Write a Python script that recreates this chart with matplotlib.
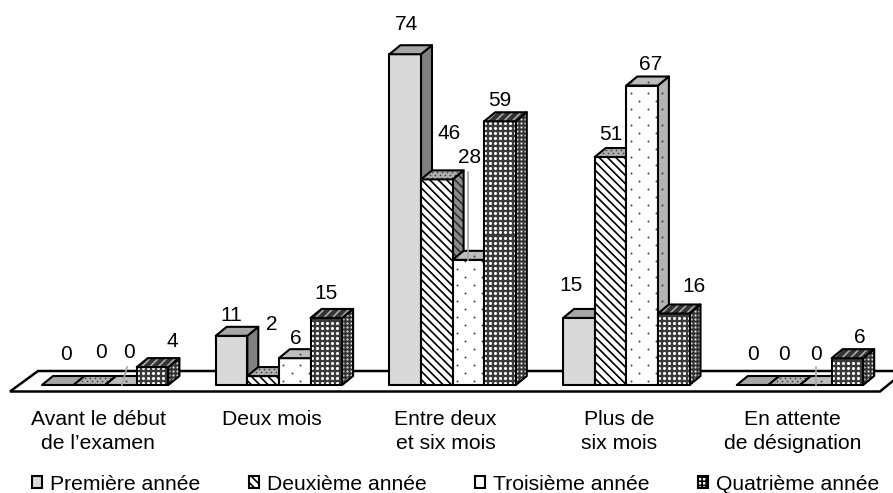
import matplotlib
matplotlib.use('Agg')
import matplotlib.pyplot as plt
import numpy as np
from matplotlib.patches import Patch, Polygon

plt.rcParams['font.family'] = ['Liberation Sans', 'DejaVu Sans']
plt.rcParams['hatch.linewidth'] = 1.2

categories = ['Avant le début\nde l’examen', 'Deux mois', 'Entre deux\net six mois',
              'Plus de\nsix mois', 'En attente\nde désignation']
series_names = ['Première année', 'Deuxième année', 'Troisième année', 'Quatrième année']
premiere = [0, 11, 74, 15, 0]
deuxieme = [0, 2, 46, 51, 0]
troisieme = [0, 6, 28, 67, 0]
quatrieme = [4, 15, 59, 16, 6]
series = [premiere, deuxieme, troisieme, quatrieme]

# label offsets from the top centre of each bar, in pixels
label_dx = [[8, 12, 8, 20], [0, 9, 1, 0], [1, 12, 1, 0], [-8, 0, 9, 20], [0, 0, 0, 12]]
label_dy = [[31, 33, 33, 26], [20, 52, 20, 24], [30, 46, 102, 21], [32, 23, 21, 27], [31, 31, 31, 21]]

# dot textures: spacing x, spacing y, staggered, size, colour
SPARSE = (17, 8, True, 2.0, '#404040')
GRID = (5, 5, False, 5.0, 'white')
GRID_SIDE = (4, 4, False, 2.5, '#dddddd')
FINE = (5, 3, True, 1.5, '#404040')

# front, top, side: face, hatch colour, hatch, dots
styles = [
    [('#d9d9d9', None, None, None), ('#a6a6a6', None, None, None), ('#808080', None, None, None)],
    [('white', 'black', '\\\\\\\\', None), ('#b0b0b0', None, None, FINE), ('#8c8c8c', '#303030', '\\\\\\\\', None)],
    [('white', None, None, SPARSE), ('#bdbdbd', None, None, SPARSE), ('#b4b4b4', None, None, SPARSE)],
    [('#3a3a3a', None, None, GRID), ('#333333', '#aaaaaa', '////', None), ('#333333', None, None, GRID_SIDE)],
]

PX_X = 173.7            # pixels per category
PX_Y = 4.47             # pixels per value unit
W = 31.6 / PX_X         # bar width
DX = 11 / PX_X          # depth of the 3D effect
DY = 9 / PX_Y
LEFT = -63 / PX_X       # left of first bar from category position

fig = plt.figure(figsize=(8.93, 4.93), dpi=100)
ax = fig.add_axes([0, 0, 1, 1])
ax.set_xlim(-105 / PX_X, (893 - 105) / PX_X)
ax.set_ylim(-108 / PX_Y, 385 / PX_Y)
ax.axis('off')


def texture(pts, dots, z, clip):
    sx, sy, stagger, size, col = dots
    xs = np.array([p[0] for p in pts]) * PX_X
    ys = np.array([p[1] for p in pts]) * PX_Y
    px, py = [], []
    for r, y in enumerate(np.arange(ys.min() + sy / 2, ys.max(), sy)):
        shift = sx / 2 if stagger and r % 2 else 0
        for x in np.arange(xs.min() + sx / 4 + shift, xs.max(), sx):
            px.append(x / PX_X)
            py.append(y / PX_Y)
    if px:
        dots_art = ax.scatter(px, py, s=size, c=col, marker='o', linewidths=0, zorder=z)
        dots_art.set_clip_path(clip)


def face(pts, style, z):
    col, hcol, hatch, dots = style
    base = ax.add_patch(Polygon(pts, closed=True, facecolor=col, edgecolor='none', zorder=z))
    if hatch:
        ax.add_patch(Polygon(pts, closed=True, facecolor='none', edgecolor=hcol,
                             hatch=hatch, linewidth=0, zorder=z))
    if dots:
        texture(pts, dots, z, base)
    ax.add_patch(Polygon(pts, closed=True, facecolor='none', edgecolor='black',
                         linewidth=1.5, joinstyle='round', zorder=z))


def bar3d(x, h, st, z):
    if h > 0:
        face([(x + W, 0), (x + W + DX, DY), (x + W + DX, h + DY), (x + W, h)], st[2], z)
        face([(x, 0), (x + W, 0), (x + W, h), (x, h)], st[0], z)
    face([(x, h), (x + W, h), (x + W + DX, h + DY), (x + DX, h + DY)], st[1], z)


# floor
floor_x = [-95 / PX_X, -67 / PX_X, 800 / PX_X, 775 / PX_X]
floor_y = [-6.5 / PX_Y, 14 / PX_Y, 14 / PX_Y, -6.5 / PX_Y]
ax.add_patch(Polygon(list(zip(floor_x, floor_y)), closed=True, facecolor='white',
                     edgecolor='black', linewidth=1.8, zorder=1))

for i in range(len(categories)):
    for j, vals in enumerate(series):
        x = i + LEFT + j * W
        h = vals[i]
        bar3d(x, h, styles[j], 2 + j)
        ax.annotate(str(h), (x + W / 2, h), xytext=(label_dx[i][j], label_dy[i][j]),
                    textcoords='offset pixels', ha='center', va='center',
                    fontsize=15, color='black', zorder=10)
    ax.text(i - 7 / PX_X, -25 / PX_Y, categories[i], ha='center', va='top',
            fontsize=15.2, linespacing=1.35, color='black')

# leader lines of the labels sitting away from their bars
ax.plot([2 + LEFT + 2.5 * W] * 2, [troisieme[2], troisieme[2] + 19.6], color='#a6a6a6', lw=1.2, zorder=11)
ax.plot([LEFT + 2.5 * W + 0.005, LEFT + 2.5 * W + 0.035], [0, 4], color='#a6a6a6', lw=1.2, zorder=11)
ax.plot([4 + LEFT + 2.5 * W] * 2, [0, 4], color='#a6a6a6', lw=1.2, zorder=11)

handles = [Patch(facecolor=s[0][0], edgecolor='black', hatch=s[0][2], linewidth=1.5) for s in styles]
handles[3].set_facecolor('white')
handles[3].set_hatch('++++')
ax.legend(handles, series_names, loc='center', bbox_to_anchor=(455.5 / 893, 1 - 484 / 493), ncol=4,
          frameon=False, fontsize=15.2, handlelength=0.5, handleheight=0.5, handletextpad=0.35,
          columnspacing=2.3, borderpad=0)

fig.savefig('out.png', dpi=100)
